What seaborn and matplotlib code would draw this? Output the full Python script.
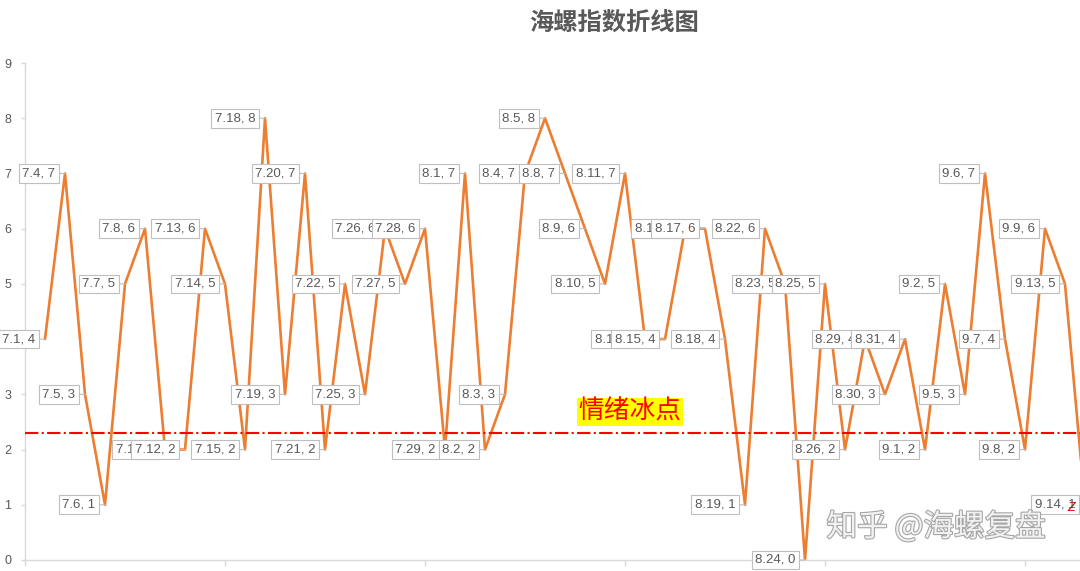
import numpy as np
import pandas as pd
import matplotlib
matplotlib.use("Agg")
import matplotlib.pyplot as plt
import matplotlib.patheffects as pe
import seaborn as sns

sns.set_theme(style="white")
plt.rcParams["font.family"] = ["Liberation Sans", "Noto Sans CJK SC", "DejaVu Sans"]

# === data ===
dates = ["7.1", "7.4", "7.5", "7.6", "7.7", "7.8", "7.11", "7.12", "7.13", "7.14",
         "7.15", "7.18", "7.19", "7.20", "7.21", "7.22", "7.25", "7.26", "7.27", "7.28",
         "7.29", "8.1", "8.2", "8.3", "8.4", "8.5", "8.8", "8.9", "8.10", "8.11",
         "8.12", "8.15", "8.16", "8.17", "8.18", "8.19", "8.22", "8.23", "8.24", "8.25",
         "8.26", "8.29", "8.30", "8.31", "9.1", "9.2", "9.5", "9.6", "9.7", "9.8",
         "9.9", "9.13", "9.14"]
values = [4, 7, 3, 1, 5, 6, 2, 2, 6, 5,
          2, 8, 3, 7, 2, 5, 3, 6, 5, 6,
          2, 7, 2, 3, 7, 8, 7, 6, 5, 7,
          4, 4, 6, 6, 4, 1, 6, 5, 0, 5,
          2, 4, 3, 4, 2, 5, 3, 7, 4, 2,
          6, 5, 1]
ice_point = 2.3
ice_label = "情绪冰点"
title = "海螺指数折线图"
watermark = "知乎 @海螺复盘"

df = pd.DataFrame({"date": dates, "value": values})
df["pos"] = np.arange(1, len(df) + 1)

orange = "#ED7D31"
grey_txt = "#595959"
axis_col = "#D9D9D9"

fig = plt.figure(figsize=(10.8, 5.71), dpi=100)
ax = fig.add_axes([25 / 1080, 1 - 560 / 571, 1 - 25 / 1080, (560 - 63) / 571])

sns.lineplot(data=df, x="pos", y="value", ax=ax, color=orange, linewidth=1.9, zorder=2)

# threshold line
ax.axhline(ice_point, color="#FF0000", linestyle="-.", linewidth=1.5, zorder=3)
ax.text(30.25, 2.68, ice_label, color="#FF0000", fontsize=18.5, ha="center", va="center",
        family=["Noto Sans CJK SC", "DejaVu Sans"], zorder=6,
        bbox=dict(boxstyle="square,pad=0.05", fc="#FFFF00", ec="none"))

# data labels
for _, r in df.iterrows():
    ax.annotate(f"{r['date']}, {r['value']}", xy=(r["pos"], r["value"]),
                xytext=(-7, 0), textcoords="offset points", ha="right", va="center",
                fontsize=9.5, color=grey_txt, annotation_clip=False, zorder=5,
                bbox=dict(boxstyle="square,pad=0.25", fc="white", ec="#BFBFBF", lw=0.8),
                arrowprops=dict(arrowstyle="-", color="#BFBFBF", lw=0.8,
                                shrinkA=0, shrinkB=0))

ax.set_xlim(0, 52.75)
ax.set_ylim(0, 9)
ax.set_yticks(range(0, 10))
ax.set_xticks(range(0, 60, 10))
ax.set_xticklabels([])
ax.set_xlabel("")
ax.set_ylabel("")
ax.grid(False)
for side in ["top", "right"]:
    ax.spines[side].set_visible(False)
for side in ["left", "bottom"]:
    ax.spines[side].set_color(axis_col)
    ax.spines[side].set_linewidth(1.0)
ax.tick_params(axis="y", length=3, width=1, color=axis_col, pad=7, labelsize=9,
               labelcolor=grey_txt, left=True)
ax.tick_params(axis="x", length=4, width=1, color=axis_col, bottom=True, direction="out")

fig.text(614 / 1080, 1 - 24 / 571, title, ha="center", va="center", fontsize=17.5,
         fontweight="bold", color=grey_txt, family=["Noto Sans CJK SC", "DejaVu Sans"])

fig.text(936 / 1080, 1 - 527 / 571, watermark, ha="center", va="center", fontsize=22,
         color="#F2F2F2", family=["Noto Sans CJK SC", "DejaVu Sans"], zorder=10,
         path_effects=[pe.withStroke(linewidth=1.6, foreground="#A6A6A6")])

fig.text(1071 / 1080, 1 - 508 / 571, "Z", ha="center", va="center", fontsize=9,
         color="#E00000", fontstyle="italic", zorder=11)

fig.savefig("out.png", dpi=100)
